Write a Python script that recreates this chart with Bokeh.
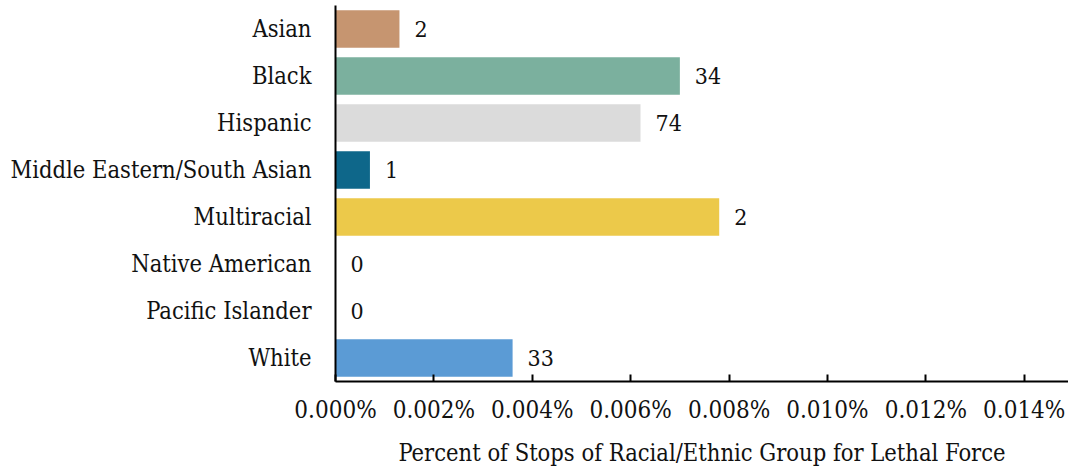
from bokeh.plotting import figure
from bokeh.models import ColumnDataSource, FixedTicker, PrintfTickFormatter, Range1d, FactorRange
from bokeh.core.properties import value
from bokeh.embed import file_html
from bokeh.resources import INLINE

categories = ["Asian", "Black", "Hispanic", "Middle Eastern/South Asian",
              "Multiracial", "Native American", "Pacific Islander", "White"]
percents = [0.0013, 0.0070, 0.0062, 0.0007, 0.0078, 0.0, 0.0, 0.0036]
counts = [2, 34, 74, 1, 2, 0, 0, 33]
colors = ["#C69570", "#7BB09E", "#DBDBDB", "#0E678A",
          "#ECC94A", "#FFFFFF", "#FFFFFF", "#5B9BD5"]
x_ticks = [0.000, 0.002, 0.004, 0.006, 0.008, 0.010, 0.012, 0.014]
x_title = "Percent of Stops of Racial/Ethnic Group for Lethal Force"

FONT = "DejaVu Serif Condensed"

src = ColumnDataSource(dict(cat=categories, pct=percents,
                            lbl=[str(c) for c in counts], color=colors))

p = figure(frame_width=733, frame_height=376, output_backend="svg", toolbar_location=None,
           y_range=FactorRange(factors=list(reversed(categories)), range_padding=0),
           x_range=Range1d(0, 0.0149))
p.min_border_left = 335
p.min_border_right = 0
p.min_border_top = 5
p.min_border_bottom = 87
p.outline_line_color = None
p.xgrid.grid_line_color = None
p.ygrid.grid_line_color = None

p.hbar(y="cat", left=0, right="pct", height=0.8, color="color", line_color=None, source=src)
p.text(x="pct", y="cat", text="lbl", source=src, x_offset=15,
       text_align="left", text_baseline="middle",
       text_font=value(FONT), text_font_size="23px", text_color="#111111")

xa = p.xaxis[0]
xa.ticker = FixedTicker(ticks=x_ticks)
xa.formatter = PrintfTickFormatter(format="%.3f%%")
xa.major_tick_in = 7
xa.major_tick_out = 0
xa.minor_tick_line_color = None
xa.axis_line_color = "#000000"
xa.axis_line_width = 2
xa.major_tick_line_color = "#000000"
xa.major_tick_line_width = 2
xa.major_label_text_font = FONT
xa.major_label_text_font_size = "24px"
xa.major_label_text_color = "#111111"
xa.major_label_standoff = 14
xa.axis_label = x_title
xa.axis_label_text_font = FONT
xa.axis_label_text_font_size = "23.5px"
xa.axis_label_text_font_style = "normal"
xa.axis_label_text_color = "#111111"
xa.axis_label_standoff = 12

ya = p.yaxis[0]
ya.major_tick_line_color = None
ya.minor_tick_line_color = None
ya.axis_line_color = "#000000"
ya.axis_line_width = 2
ya.major_label_text_font = FONT
ya.major_label_text_font_size = "23.5px"
ya.major_label_text_color = "#111111"
ya.major_label_standoff = 18

open("out.html", "w").write(file_html(p, INLINE))
